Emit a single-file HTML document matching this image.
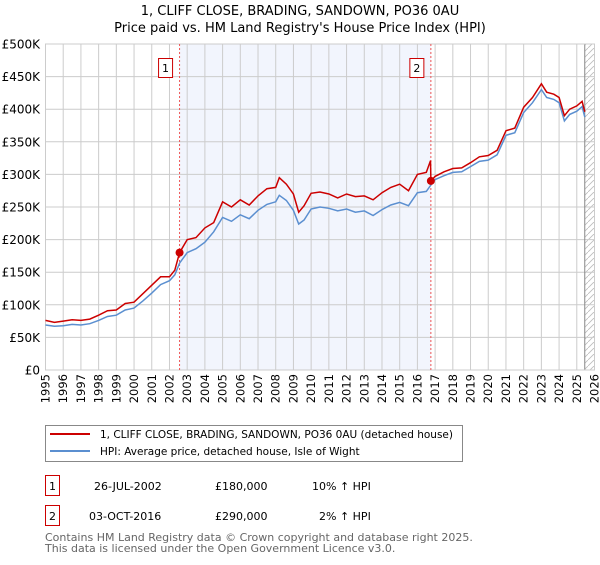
<!DOCTYPE html>
<html><head><meta charset="utf-8"><style>
body{margin:0;background:#fff;font-family:"Liberation Sans","DejaVu Sans",sans-serif}
svg text{font-family:"DejaVu Sans","Liberation Sans",sans-serif}
</style></head><body>
<svg id="c" width="600" height="560" xmlns="http://www.w3.org/2000/svg">
<text x="300" y="15" text-anchor="middle" font-size="13">1, CLIFF CLOSE, BRADING, SANDOWN, PO36 0AU</text>
<text x="300" y="32" text-anchor="middle" font-size="13">Price paid vs. HM Land Registry's House Price Index (HPI)</text>
<defs><pattern id="h" width="6" height="6" patternUnits="userSpaceOnUse"><path d="M0,6 L6,0" stroke="#bbb" stroke-width="0.8"/></pattern></defs>
<g id="plot"></g>
<g>
<rect x="45.5" y="425.5" width="417" height="36" fill="#fff" stroke="#888"/>
<line x1="50" y1="434" x2="90" y2="434" stroke="#cc0000" stroke-width="2"/>
<text x="100" y="438" font-size="10.5">1, CLIFF CLOSE, BRADING, SANDOWN, PO36 0AU (detached house)</text>
<line x1="50" y1="451" x2="90" y2="451" stroke="#5b8fd0" stroke-width="2"/>
<text x="100" y="455" font-size="10.5">HPI: Average price, detached house, Isle of Wight</text>
</g>
<g font-size="11">
<rect x="45.5" y="475.5" width="14" height="20" fill="#fff" stroke="#cc0000"/>
<text x="52.5" y="490" text-anchor="middle">1</text>
<text x="94" y="490">26-JUL-2002</text>
<text x="215" y="490">£180,000</text>
<text x="312" y="490">10% ↑ HPI</text>
<rect x="45.5" y="505.5" width="14" height="20" fill="#fff" stroke="#cc0000"/>
<text x="52.5" y="520" text-anchor="middle">2</text>
<text x="89" y="520">03-OCT-2016</text>
<text x="215" y="520">£290,000</text>
<text x="319" y="520">2% ↑ HPI</text>
</g>
<text x="45" y="541" font-size="11" fill="#666">Contains HM Land Registry data © Crown copyright and database right 2025.</text>
<text x="45" y="552" font-size="11" fill="#666">This data is licensed under the Open Government Licence v3.0.</text>
</svg>
<script>
const years=[1995,1995.5,1996,1996.5,1997,1997.5,1998,1998.5,1999,1999.5,2000,2000.5,2001,2001.5,2002,2002.3,2002.57,2003,2003.5,2004,2004.5,2005,2005.5,2006,2006.5,2007,2007.5,2008,2008.2,2008.6,2009,2009.3,2009.6,2010,2010.5,2011,2011.5,2012,2012.5,2013,2013.5,2014,2014.5,2015,2015.5,2016,2016.5,2016.74,2016.76,2017,2017.5,2018,2018.5,2019,2019.5,2020,2020.5,2021,2021.5,2022,2022.5,2023,2023.3,2023.7,2024,2024.3,2024.6,2025,2025.3,2025.45];
const hpiValues=[69,67,68,70,69,71,76,82,84,92,95,106,118,131,137,146,164,180,186,196,212,234,228,238,232,245,254,258,268,260,245,224,230,247,250,248,244,247,242,244,237,246,253,257,252,272,274,283,284,292,298,303,304,312,320,322,330,360,364,395,410,430,418,415,410,382,392,397,404,388];
const priceValues=[76,73,75,77,76,78,84,91,92,102,104,117,130,143,143,153,180,200,203,218,226,258,250,261,253,267,278,280,295,285,270,242,252,271,273,270,264,270,266,267,261,272,280,285,275,300,303,321,290,297,304,309,310,318,327,329,337,367,371,403,418,439,426,423,418,390,400,405,412,396];
const yTicks=[0,50,100,150,200,250,300,350,400,450,500];
const yTickLabels=["£0","£50K","£100K","£150K","£200K","£250K","£300K","£350K","£400K","£450K","£500K"];
const xTicks=[1995,1996,1997,1998,1999,2000,2001,2002,2003,2004,2005,2006,2007,2008,2009,2010,2011,2012,2013,2014,2015,2016,2017,2018,2019,2020,2021,2022,2023,2024,2025,2026];
const sales=[{t:2002.57,v:180,label:"1"},{t:2016.76,v:290,label:"2"}];
const X0=45.5,X1=594.5,Y0=370,Y1=44;
const sx=t=>X0+(t-1995)/(2026-1995)*(X1-X0);
const sy=v=>Y0-v/500*(Y0-Y1);
const NS="http://www.w3.org/2000/svg";
const g=document.getElementById('plot');
function mk(tag,attrs){const e=document.createElementNS(NS,tag);for(const k in attrs)e.setAttribute(k,attrs[k]);g.appendChild(e);return e;}
let e=mk('rect',{x:sx(sales[0].t),y:Y1,width:sx(sales[1].t)-sx(sales[0].t),height:Y0-Y1,fill:'#f2f5fd'});


e=mk('rect',{x:sx(2025.45),y:Y1,width:X1-sx(2025.45),height:Y0-Y1,fill:'url(#h)'});


yTicks.forEach((v,i)=>{
 let l=mk('line',{x1:X0,x2:X1,y1:sy(v),y2:sy(v),stroke:'#ccc'});
 
 
 let t=mk('text',{x:40,y:sy(v)+4.5,'text-anchor':'end','font-size':12});
 t.textContent=yTickLabels[i];
 
 
});
xTicks.forEach(y=>{
 let l=mk('line',{x1:sx(y),x2:sx(y),y1:Y1,y2:Y0,stroke:'#ccc'});
 
 
 const px=sx(y)+4, py=374;
 let t=mk('text',{x:px,y:py,'text-anchor':'end','font-size':11.5,transform:'rotate(-90 '+px+' '+py+')'});
 t.textContent=y;
 
 
});
e=mk('line',{x1:sx(2025.45),x2:sx(2025.45),y1:Y1,y2:Y0,stroke:'#888'});


e=mk('rect',{x:X0,y:Y1,width:X1-X0,height:Y0-Y1,fill:'none',stroke:'#ccc'});


sales.forEach(s=>{
 let l=mk('line',{x1:sx(s.t),x2:sx(s.t),y1:Y1,y2:Y0,stroke:'#ee5555','stroke-dasharray':'2,2'});
 
 
});
const pts=a=>a.map((v,i)=>sx(years[i]).toFixed(1)+','+sy(v).toFixed(1)).join(' ');
e=mk('polyline',{points:pts(hpiValues),fill:'none',stroke:'#5b8fd0','stroke-width':1.5});


e=mk('polyline',{points:pts(priceValues),fill:'none',stroke:'#cc0000','stroke-width':1.5});


sales.forEach(s=>{
 let c=mk('circle',{cx:sx(s.t),cy:sy(s.v),r:4,fill:'#cc0000'});
 
 
 let b=mk('rect',{x:sx(s.t)-21,y:58.5,width:14,height:19,fill:'#fff',stroke:'#cc0000'});
 
 
 let t=mk('text',{x:sx(s.t)-14,y:72,'text-anchor':'middle','font-size':11});
 t.textContent=s.label;
 
 
});
</script>
</body></html>
